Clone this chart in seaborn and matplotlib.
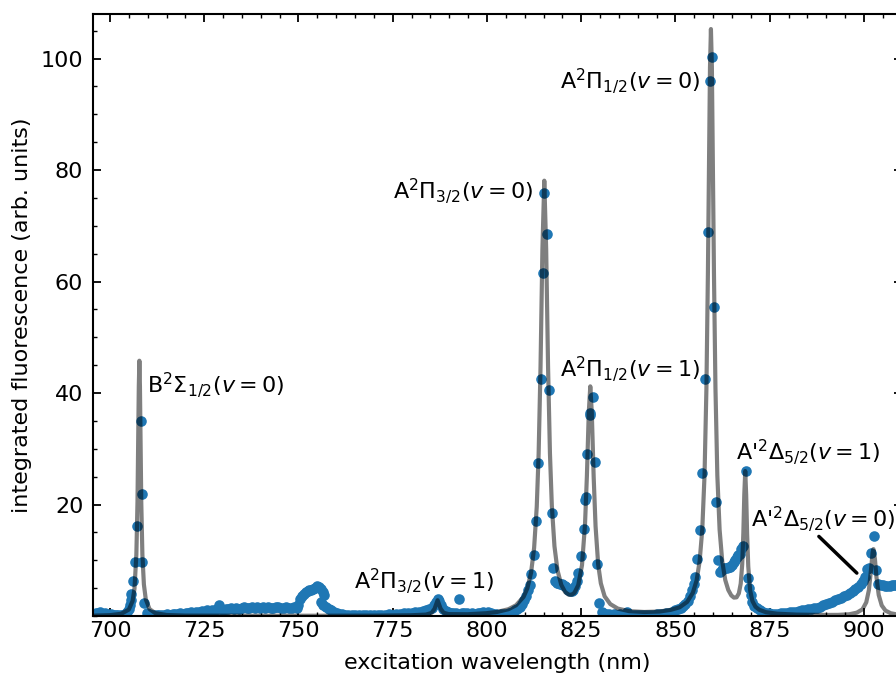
import matplotlib
matplotlib.use("Agg")
import matplotlib.pyplot as plt
from matplotlib.ticker import MultipleLocator
import seaborn as sns
import pandas as pd

# ---- measured data (scatter) ----
scan_x = [
    696.2, 696.8, 697.4, 698.0, 698.6, 699.2, 699.8, 700.4, 701.0, 701.6, 702.2, 702.8, 703.4, 704.0, 704.6, 705.0,
    705.3, 705.6, 705.7, 706.0, 706.6, 707.1, 708.1, 708.4, 708.6, 709.0, 709.7,
    710.3, 711.0, 711.7, 712.4, 713.1, 713.8, 714.5, 715.2, 715.9, 716.6, 717.3, 718.0, 718.7, 719.4, 720.1, 720.8,
    721.5, 722.2, 722.9, 723.6, 724.3, 725.0, 725.7, 726.4, 727.1, 727.8, 728.5, 728.9, 729.3, 730.0, 730.7, 731.4,
    732.1, 732.8, 733.5, 734.2, 734.9, 735.6, 736.3, 737.0, 737.7, 738.4, 739.1, 739.8, 740.5, 741.2, 741.9, 742.6,
    743.3, 744.0, 744.7, 745.4, 746.1, 746.8, 747.5, 748.2, 748.9, 749.5,
    750.0, 750.4, 750.9, 751.4, 751.9, 752.4, 752.9, 753.4, 753.9, 754.4, 754.9, 755.4, 755.9, 756.4, 756.9, 756.1,
    756.6, 757.3, 758.0, 758.7, 759.4, 760.1, 760.8, 761.5,
    762.3, 763.2, 764.1, 765.0, 766.0, 767.0, 768.0, 769.0, 770.0, 771.0, 772.0, 773.0, 774.0, 775.0, 776.0, 777.0,
    778.0, 779.0, 780.0, 781.0, 782.0, 783.0, 783.8, 784.6, 785.3, 785.9, 786.4, 786.9, 787.4, 787.9, 788.4, 789.0,
    789.7, 790.4, 791.1, 791.8, 792.6, 793.3, 794.0, 794.7, 795.4, 796.1, 796.8, 797.5, 798.2, 798.9, 799.6, 800.3,
    801.0, 801.7, 802.4, 803.1, 803.8, 804.5, 805.2, 805.9, 806.6, 807.3, 808.0, 808.7, 809.3, 809.9, 810.4, 810.9,
    811.3, 811.8, 812.5, 813.0, 813.6, 814.2, 814.8, 815.1, 815.9, 816.5, 817.2, 817.4, 818.0, 818.5, 818.9, 819.4,
    819.8, 820.2, 820.6, 821.0, 821.6, 822.1, 822.5, 822.9, 823.3, 823.8, 824.2, 824.9, 825.8, 826.0, 826.2, 826.4,
    827.3, 827.4, 828.0, 828.6, 829.2, 829.8, 830.4,
    830.9, 831.6, 832.3, 833.0, 833.8, 834.6, 835.4, 836.2, 837.2, 838.0, 838.8, 839.6, 840.4, 841.2, 842.0, 842.8,
    843.6, 844.4, 845.2, 846.0, 846.8, 847.6, 848.4, 849.2, 850.0, 850.7, 851.4, 852.0, 852.6,
    853.2, 853.8, 854.3, 854.8, 855.2, 855.7, 856.5, 857.1, 857.8, 858.5, 859.1, 859.6, 860.2, 860.8, 861.3, 861.8,
    862.3, 862.7, 863.2, 863.7, 864.1, 864.5, 865.0, 865.4, 865.8, 866.3, 866.7, 867.1, 867.5, 867.8, 868.6, 869.1,
    869.5, 869.9, 870.3, 870.8, 871.5,
    872.3, 873.1, 873.9, 874.7, 875.5, 876.3, 877.1, 877.9, 878.7, 879.5, 880.3, 881.1, 881.9, 882.7, 883.5, 884.3,
    885.1, 885.9, 886.7, 887.5, 888.3, 889.1, 889.9, 890.7, 891.5, 892.3, 893.1, 893.9, 894.7, 895.5, 896.3, 897.0,
    897.7, 898.4, 899.1, 899.7, 900.3, 900.7, 901.2, 901.9, 902.6, 903.3, 903.8, 904.4, 905.0, 905.6, 906.2, 906.8,
    907.4, 908.0, 908.6, 909.3,
]
scan_y = [
    0.6, 0.5, 0.7, 0.4, 0.5, 0.3, 0.2, 0.3, 0.1, 0.2, 0.1, 0.2, 0.1, 0.3, 0.7, 1.2,
    1.9, 2.8, 3.9, 6.3, 9.6, 16.2, 34.9, 21.8, 9.6, 2.3, 0.5,
    0.3, 0.2, 0.1, 0.2, 0.1, 0.2, 0.1, 0.3, 0.2, 0.3, 0.4, 0.3, 0.5, 0.4, 0.6, 0.5,
    0.7, 0.6, 0.8, 0.7, 0.9, 0.8, 1.0, 0.9, 1.1, 1.0, 1.2, 1.9, 1.3, 1.1, 1.3, 1.2,
    1.4, 1.3, 1.5, 1.3, 1.4, 1.6, 1.4, 1.5, 1.7, 1.5, 1.6, 1.4, 1.6, 1.5, 1.7, 1.5,
    1.4, 1.6, 1.7, 1.5, 1.4, 1.6, 1.5, 1.4, 1.6, 1.5,
    2.0, 3.0, 3.6, 4.0, 4.3, 4.5, 4.6, 4.7, 4.9, 5.1, 5.3, 5.2, 4.8, 4.3, 3.8, 2.5,
    2.0, 1.6, 1.3, 1.0, 0.8, 0.6, 0.4, 0.3,
    0.2, 0.2, 0.1, 0.2, 0.1, 0.1, 0.2, 0.1, 0.2, 0.2, 0.1, 0.2, 0.3, 0.2, 0.3, 0.4,
    0.5, 0.6, 0.5, 0.7, 0.8, 0.9, 1.0, 1.2, 1.5, 2.0, 2.6, 3.1, 2.7, 1.9, 1.3, 0.9,
    0.7, 0.6, 0.5, 0.6, 3.0, 0.6, 0.5, 0.6, 0.4, 0.5, 0.4, 0.6, 0.5, 0.7, 0.6, 0.8,
    0.5, 0.4, 0.3, 0.2, 0.3, 0.3, 0.4, 0.6, 0.8, 1.0, 1.3, 1.6, 2.1, 2.8, 3.6, 4.6,
    5.6, 7.5, 10.9, 17.1, 27.4, 42.6, 61.6, 75.9, 68.5, 40.5, 18.4, 8.6, 6.2, 6.0, 5.9, 5.8,
    5.7, 5.6, 5.4, 5.2, 4.7, 4.5, 4.4, 4.7, 5.3, 6.3, 7.7, 10.8, 15.6, 20.9, 21.4, 29.1,
    36.1, 36.4, 39.3, 27.7, 9.4, 2.4, 0.8,
    0.6, 0.4, 0.3, 0.2, 0.3, 0.2, 0.3, 0.2, 0.8, 0.2, 0.1, 0.2, 0.1, 0.1, 0.2, 0.1,
    0.2, 0.2, 0.3, 0.3, 0.4, 0.5, 0.6, 0.8, 1.0, 1.2, 1.5, 1.8, 2.2,
    2.7, 3.5, 4.6, 5.8, 7.0, 10.2, 15.4, 25.6, 42.6, 68.9, 96.0, 100.2, 55.4, 20.5, 10.0, 7.9,
    8.3, 8.6, 8.6, 8.7, 8.8, 8.8, 9.2, 9.6, 10.0, 10.6, 11.0, 11.2, 12.0, 12.6, 26.1, 6.8,
    5.0, 3.8, 2.6, 1.8, 1.4,
    1.0, 0.8, 0.6, 0.5, 0.4, 0.4, 0.4, 0.5, 0.5, 0.6, 0.7, 0.8, 0.8, 0.9, 1.0, 1.1,
    1.2, 1.3, 1.4, 1.5, 1.7, 1.9, 2.1, 2.3, 2.5, 2.8, 3.0, 3.2, 3.5, 3.8, 4.1, 4.4,
    4.8, 5.2, 5.7, 6.3, 7.0, 8.4, 8.6, 11.3, 14.3, 8.2, 5.8, 5.6, 5.5, 5.4, 5.3, 5.4,
    5.5, 5.6, 5.6, 5.7,
]

# ---- fitted curve ----
fit_x = [
    696.0, 700.0, 703.0, 705.0, 706.0, 706.5, 707.0, 707.3, 707.5, 707.65, 707.8, 707.95, 708.1, 708.3, 708.6,
    709.0, 709.5, 710.5, 712.0, 715.0, 720.0, 740.0, 770.0, 779.8, 783.8, 785.3, 786.1, 786.9, 787.7, 788.5,
    789.8, 794.8, 799.8, 802.7, 805.7, 807.7, 809.7, 810.7, 811.7, 812.5, 813.2, 813.7, 814.2, 814.7, 815.2,
    815.7, 816.2, 816.7, 817.2, 817.9, 818.7, 819.7, 820.7, 821.7, 822.5, 823.2, 824.2, 825.2, 826.0, 826.5,
    827.0, 827.4, 827.8, 828.3, 828.8, 829.5, 830.2, 831.2, 832.7, 834.7, 837.7, 841.7, 845.7, 848.7, 851.1,
    853.1, 854.6, 855.6, 856.4, 857.1, 857.7, 858.2, 858.6, 858.9, 859.15, 859.4, 859.65, 859.9, 860.2, 860.6,
    861.1, 861.7, 862.4, 863.2, 864.0, 864.8, 865.5, 866.2, 866.8, 867.3, 867.7, 868.0, 868.25, 868.5, 868.75,
    869.0, 869.3, 869.8, 870.4, 871.2, 872.2, 874.0, 877.0, 882.1, 888.1, 893.1, 896.1, 898.1, 899.6, 900.6,
    901.3, 901.9, 902.3, 902.5, 902.9, 903.3, 903.9, 904.7, 905.7, 907.1, 909.1, 910.0,
]
fit_y = [
    0.07, 0.15, 0.40, 1.15, 2.69, 4.90, 11.0, 20.5, 31.7, 41.2, 45.8, 41.2, 31.7, 20.5, 11.0,
    5.65, 3.0, 1.24, 0.52, 0.18, 0.07, 0.04, 0.06, 0.13, 0.25, 0.55, 1.3, 2.83, 1.3, 0.58,
    0.34, 0.31, 0.5, 0.73, 1.22, 1.92, 3.42, 4.95, 7.8, 12.2, 19.6, 29.1, 44.6, 65.7, 78.1,
    65.8, 44.7, 29.2, 19.8, 12.5, 8.2, 5.6, 4.32, 3.81, 3.83, 4.17, 5.53, 9.1, 16.4, 25.1,
    36.5, 41.2, 36.5, 24.9, 16.1, 9.2, 5.86, 3.54, 2.14, 1.33, 0.87, 0.72, 0.8, 1.1, 1.56,
    2.53, 4.16, 6.38, 9.8, 15.5, 25.2, 40.7, 61.6, 82.4, 98.4, 105.3, 98.5, 82.5, 61.7, 40.9,
    25.2, 15.5, 9.8, 6.45, 4.67, 3.69, 3.3, 3.35, 4.05, 5.8, 9.3, 14.9, 21.8, 26.0, 21.7,
    14.7, 8.9, 4.6, 2.7, 1.67, 1.12, 0.68, 0.41, 0.25, 0.19, 0.2, 0.31, 0.6, 1.2, 2.45,
    4.65, 8.6, 11.45, 12.0, 10.2, 7.0, 3.78, 1.9, 0.97, 0.49, 0.24, 0.2,
]

# ---- annotation labels ----
labels = [
    r"A$^2\Pi_{3/2}(v=0)$", r"A$^2\Pi_{1/2}(v=0)$", r"A$^2\Pi_{1/2}(v=1)$",
    r"B$^2\Sigma_{1/2}(v=0)$", r"A$^2\Pi_{3/2}(v=1)$", r"A'$^2\Delta_{5/2}(v=1)$",
]
label_x = [812.2, 856.5, 856.5, 709.8, 764.7, 866.0]
label_y = [74.8, 94.7, 42.9, 40.0, 5.0, 28.0]
label_ha = ["right", "right", "right", "left", "left", "left"]
arrow_label = r"A'$^2\Delta_{5/2}(v=0)$"

xticks = [700, 725, 750, 775, 800, 825, 850, 875, 900]
yticks = [20, 40, 60, 80, 100]

scan = pd.DataFrame({"wl": scan_x, "fl": scan_y})
fit = pd.DataFrame({"wl": fit_x, "fl": fit_y})

plt.rcParams["font.family"] = ["DejaVu Sans"]
plt.rcParams["mathtext.fontset"] = "dejavusans"

fig = plt.figure(figsize=(8.96, 6.78), dpi=100)
ax = fig.add_axes([93 / 896, 62 / 678, (901.7 - 93) / 896, (616 - 14) / 678])

sns.scatterplot(data=scan, x="wl", y="fl", ax=ax, color="#1f77b4", s=58,
                linewidth=0, zorder=2, legend=False)
sns.lineplot(data=fit, x="wl", y="fl", ax=ax, color="black", alpha=0.5, lw=3,
             estimator=None, sort=False, zorder=3, legend=False)

ax.set_xlim(695.5, 910)
ax.set_ylim(0, 108)
ax.set_xticks(xticks)
ax.set_yticks(yticks)
ax.xaxis.set_minor_locator(MultipleLocator(5))
ax.yaxis.set_minor_locator(MultipleLocator(5))
ax.tick_params(which="both", direction="in", top=True, right=True, labelsize=16)
ax.tick_params(which="major", length=6, width=1.3)
ax.tick_params(which="minor", length=3, width=1.0)
ax.tick_params(axis="y", which="major", pad=7)
ax.tick_params(axis="x", which="major", pad=3.5)
for sp in ax.spines.values():
    sp.set_linewidth(1.5)

ax.set_xlabel("excitation wavelength (nm)", fontsize=16, labelpad=9)
ax.set_ylabel("integrated fluorescence (arb. units)", fontsize=16, labelpad=6)

for t, x, y, ha in zip(labels, label_x, label_y, label_ha):
    ax.text(x, y, t, ha=ha, va="baseline", fontsize=16)

ax.annotate(arrow_label, xy=(898.1, 7.7), xytext=(870.0, 16.1),
            ha="left", va="baseline", fontsize=16,
            arrowprops=dict(arrowstyle="-", color="black", lw=2.5,
                            shrinkA=0, shrinkB=0, relpos=(0.45, 0.0)))

fig.savefig("out.png", dpi=100)
